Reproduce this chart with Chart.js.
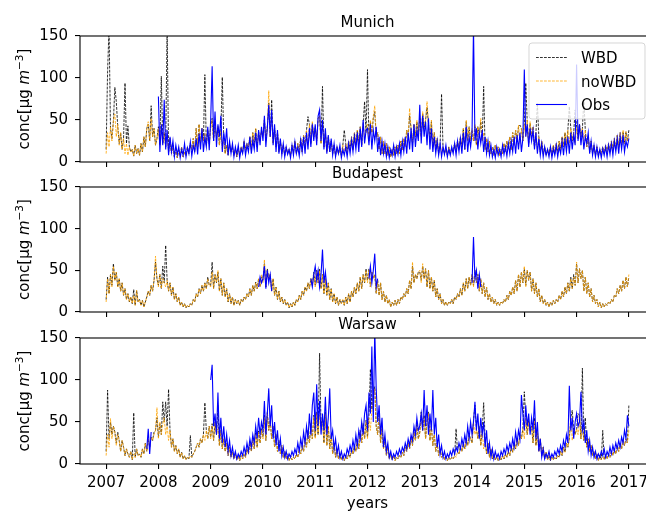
<!DOCTYPE html>
<html>
<head>
<meta charset="utf-8">
<script src="https://cdn.jsdelivr.net/npm/chart.js@4.4.1/dist/chart.umd.min.js"></script>
<style>
  html, body { margin: 0; padding: 0; width: 646px; height: 512px; overflow: hidden; background: #fff; }
  canvas { position: absolute; left: 0; top: 0; }
</style>
</head>
<body>
<canvas id="munich" width="670" height="512"></canvas>
<canvas id="budapest" width="670" height="512"></canvas>
<canvas id="warsaw" width="670" height="512"></canvas>
<script>
// Concentration series sampled every ~10 days, 2007.0 .. 2017.0 (36 samples per year + final point)
const T0 = 2007;
const PER_YEAR = 36;
const YEARS = [2007, 2008, 2009, 2010, 2011, 2012, 2013, 2014, 2015, 2016, 2017];
const _ = null;
const gap = n => Array(n).fill(null);

// ---------- Munich ----------
const munichWBD = [
  15,108,160,40,28,48,89,72,42,22,35,15,28,94,22,43,18,12,15,7,20,10,16,8,22,12,30,18,40,45,25,67,30,40,20,28,
  42,20,102,22,35,18,160,12,28,10,20,6,15,5,14,8,18,6,12,8,18,10,22,15,28,12,40,18,45,22,40,25,104,20,38,22,
  42,52,25,45,30,42,20,38,101,28,10,20,8,22,12,18,8,15,6,14,10,18,12,25,15,22,18,30,15,35,20,40,18,36,25,38,
  32,50,25,42,70,30,74,22,40,18,35,12,25,10,20,8,18,10,15,8,20,12,25,10,22,14,28,12,32,18,38,54,45,22,46,30,
  42,25,52,55,22,90,18,35,12,30,12,25,10,20,8,18,10,15,8,20,38,22,12,25,15,30,15,35,20,38,22,42,20,45,72,35,
  110,25,48,35,52,60,30,35,15,30,10,25,10,22,8,18,6,15,8,18,10,20,10,25,14,28,18,38,30,55,40,22,45,30,48,30,
  52,30,58,40,50,65,45,25,48,18,35,15,28,10,20,81,18,10,15,8,18,10,16,12,22,12,25,15,30,18,40,15,48,25,42,25,
  38,25,42,20,42,30,48,25,90,15,28,12,25,10,18,8,20,10,18,8,15,10,22,12,25,15,30,15,35,20,38,25,42,44,40,25,
  45,94,48,22,46,30,42,18,35,70,30,12,25,10,18,8,15,10,18,8,20,10,22,12,25,15,30,18,35,20,38,66,40,25,35,62,
  42,28,45,30,40,74,38,18,30,12,25,10,20,8,18,8,15,10,18,10,20,12,22,12,25,15,28,15,32,18,35,20,36,22,36,25,38
];
const munichNoWBD = [
  10,35,18,42,25,50,57,30,45,20,35,15,28,10,22,8,18,12,15,7,20,10,16,8,22,12,30,18,40,48,25,52,30,40,20,28,
  40,20,45,22,35,18,30,12,28,10,20,6,15,5,14,8,18,6,12,8,18,10,22,15,28,12,40,18,45,22,40,25,35,20,38,22,
  40,50,25,45,30,42,20,38,15,28,10,20,8,22,12,18,8,15,6,14,10,18,12,25,15,22,18,30,15,35,20,40,18,35,25,38,
  30,50,25,40,85,30,55,22,40,18,35,12,25,10,20,8,18,10,15,8,20,12,25,10,22,14,28,12,32,18,38,20,45,22,48,30,
  40,25,50,55,22,48,18,35,12,30,12,25,10,20,8,18,10,15,8,20,10,22,12,25,15,30,15,35,20,38,22,42,20,45,30,35,
  45,25,50,35,55,67,30,35,15,30,10,25,10,22,8,18,6,15,8,18,10,20,10,25,14,28,18,38,30,64,40,22,45,30,50,30,
  55,30,60,40,50,72,45,25,50,18,35,15,28,10,20,12,18,10,15,8,18,10,16,12,22,12,25,15,30,18,40,15,50,25,42,25,
  40,25,45,20,42,30,52,25,35,15,28,12,25,10,18,8,20,10,18,8,15,10,22,12,25,15,30,15,35,20,38,25,44,22,40,25,
  45,30,50,22,48,30,42,18,35,15,30,12,25,10,18,8,15,10,18,8,20,10,22,12,25,15,30,18,35,20,38,22,40,25,35,22,
  40,28,45,30,40,25,38,18,30,12,25,10,20,8,18,8,15,10,18,10,20,12,22,12,25,15,28,15,32,18,35,20,38,22,36,25,30
];
const munichObs = [
  ...gap(36),
  78,12,45,20,74,15,38,8,30,12,25,6,20,9,18,5,15,8,22,6,17,10,24,7,20,12,28,9,34,15,40,12,30,18,42,14,
  50,114,25,60,18,45,30,55,12,35,20,40,8,25,10,22,6,18,9,20,5,16,10,24,8,20,12,30,10,26,15,35,12,38,20,42,
  25,55,18,40,68,30,62,20,45,12,38,10,28,8,22,6,18,9,15,5,20,8,24,10,18,7,26,12,30,10,35,15,40,18,45,25,
  45,20,55,62,25,50,15,40,10,32,12,28,8,22,6,18,10,20,5,15,8,18,6,22,10,26,12,30,15,35,12,40,18,50,22,38,
  40,20,45,15,38,25,42,12,30,8,25,10,22,6,18,5,15,8,20,6,18,9,22,8,25,12,30,10,35,15,40,12,45,18,38,25,
  68,22,55,30,48,20,52,15,40,12,30,10,25,8,22,6,18,9,20,6,15,8,18,10,22,8,25,12,28,10,35,15,42,12,30,18,
  35,160,25,40,15,35,22,38,12,30,10,25,8,20,6,15,5,18,8,15,6,20,9,18,7,22,10,25,12,30,10,32,15,35,12,28,
  110,30,45,18,40,25,38,15,35,10,28,8,22,6,18,8,15,6,18,5,16,8,20,6,18,10,25,8,28,12,30,10,35,15,32,20,
  116,25,45,20,38,15,30,22,35,10,25,8,20,6,18,6,15,5,16,8,18,6,20,9,22,8,25,12,28,10,30,15,32,12,25,18,28
];

// ---------- Budapest ----------
const budapestWBD = [
  15,42,22,45,32,58,38,48,30,40,25,35,20,28,15,22,12,18,10,27,8,26,12,15,8,14,6,12,18,25,20,32,25,38,60,40,
  32,45,28,55,35,80,38,25,35,20,30,15,22,12,18,8,12,6,10,5,8,6,10,8,15,12,22,18,28,22,32,25,35,28,42,32,
  32,60,28,45,35,48,25,40,20,35,18,28,12,22,10,18,8,15,10,14,8,15,12,18,15,22,18,28,20,32,25,36,28,40,30,42,
  38,58,30,52,40,45,25,40,20,30,15,25,12,18,10,15,8,12,5,10,6,12,8,15,12,20,15,25,20,30,25,35,28,40,32,48,
  32,50,35,52,28,45,22,40,20,35,15,28,12,22,10,18,8,15,10,15,8,18,10,22,12,25,18,30,22,35,25,42,28,45,35,52,
  38,52,30,48,40,45,22,38,20,35,15,25,12,20,10,15,6,12,8,14,8,15,10,18,15,22,18,28,22,38,28,55,35,45,40,48,
  48,38,55,40,52,30,50,28,42,25,38,18,28,15,22,10,15,8,12,8,12,10,15,10,18,15,22,18,28,20,35,25,40,28,42,32,
  45,32,50,35,45,25,40,22,35,18,30,15,22,12,18,10,15,8,12,8,12,10,15,12,20,15,25,20,30,22,38,25,45,30,48,35,
  52,32,50,38,48,25,40,22,35,18,28,12,20,10,15,8,12,6,12,8,14,10,15,12,20,15,25,18,30,22,35,25,42,28,45,32,
  58,35,52,40,50,25,42,22,35,18,28,12,20,10,15,6,12,5,10,6,10,8,12,10,15,12,20,18,28,22,32,25,38,28,42,30,42
];
const budapestNoWBD = [
  12,40,22,45,30,55,38,48,30,40,25,35,20,28,15,22,12,18,10,20,8,26,12,15,8,14,6,12,18,25,20,32,25,38,67,40,
  30,45,28,40,35,30,38,25,35,20,30,15,22,12,18,8,12,6,10,5,8,6,10,8,15,12,22,18,28,22,32,25,35,28,40,32,
  30,48,28,45,35,50,25,40,20,35,18,28,12,22,10,18,8,15,10,14,8,15,12,18,15,22,18,28,20,32,25,35,28,40,30,45,
  35,63,30,50,40,45,25,40,20,30,15,25,12,18,10,15,8,12,5,10,6,12,8,15,12,20,15,25,20,30,25,35,28,40,32,45,
  30,48,35,50,28,45,22,40,20,35,15,28,12,22,10,18,8,15,10,15,8,18,10,22,12,25,18,30,22,35,25,42,28,45,35,50,
  35,50,30,48,40,45,22,38,20,35,15,25,12,20,10,15,6,12,8,14,8,15,10,18,15,22,18,28,22,38,28,60,35,45,40,48,
  50,35,58,40,52,30,50,28,42,25,38,18,28,15,22,10,15,8,12,8,12,10,15,10,18,15,22,18,28,20,35,25,40,28,42,32,
  45,30,50,35,45,25,40,22,35,18,30,15,22,12,18,10,15,8,12,8,12,10,15,12,20,15,25,20,30,22,38,25,45,30,48,35,
  55,30,50,38,48,25,40,22,35,18,28,12,20,10,15,8,12,6,12,8,14,10,15,12,20,15,25,18,30,22,35,25,40,28,42,32,
  60,35,52,40,50,25,42,22,35,18,28,12,20,10,15,6,12,5,10,6,10,8,12,10,15,12,20,18,28,22,32,25,38,28,42,30,45
];
const budapestObs = [
  ...gap(36),
  ...gap(36),
  ...gap(33), 30, 42, 35,
  40, 55, 28, 50, 35, 45, 25, ...gap(26), 40, 30, 45,
  55, 38, 50, 30, 45, 75, 35, 48, 30, ...gap(27),
  _, 40, 55, 35, 50, 70, 30, 40, ...gap(28),
  ...gap(36),
  35, 90, 40, 50, 28, 45, 30, ...gap(29),
  ...gap(36),
  ...gap(37)
];

// ---------- Warsaw ----------
const warsawWBD = [
  15,88,30,50,35,45,38,25,38,28,15,28,20,10,18,12,8,15,5,61,8,18,10,12,8,18,12,25,15,30,20,32,28,38,40,55,
  32,48,35,74,50,74,45,89,40,20,30,15,22,12,18,8,14,6,10,5,8,6,34,8,12,15,20,25,20,30,25,35,73,40,30,45,
  32,48,28,50,35,70,22,40,18,30,15,25,10,20,8,14,6,12,5,10,4,10,6,12,8,18,12,25,15,30,18,38,20,40,25,42,
  32,58,28,62,40,52,30,45,20,35,15,28,12,22,8,15,6,12,4,10,5,8,6,12,8,18,12,22,15,30,20,40,25,48,30,58,
  32,62,35,132,45,55,25,62,22,45,18,35,12,25,8,18,6,12,5,10,4,10,6,12,8,18,12,22,15,30,18,40,25,48,30,52,
  32,58,113,65,82,92,45,35,62,25,45,18,30,10,20,6,12,5,10,4,8,6,10,8,14,10,20,15,25,18,32,22,38,28,48,30,
  38,62,40,58,30,52,62,28,45,22,35,15,25,10,18,8,12,5,10,4,8,5,8,6,10,42,15,12,20,15,25,18,30,22,35,30,
  25,52,70,42,30,45,22,40,73,30,12,25,8,18,6,12,5,10,4,8,5,10,6,12,8,15,10,20,14,25,18,30,22,35,30,42,
  86,55,35,52,40,45,25,55,22,40,15,30,10,20,6,14,5,10,4,8,5,8,6,10,8,15,10,20,14,25,20,30,55,64,40,35,
  42,60,58,30,114,28,55,20,30,15,22,10,15,6,12,4,10,5,40,5,10,6,12,8,15,10,18,12,22,15,25,18,28,22,30,25,70
];
const warsawNoWBD = [
  10,35,20,54,30,45,38,22,35,28,15,28,20,10,18,12,8,15,5,12,8,18,10,12,8,18,12,25,15,30,20,32,28,35,40,67,
  30,50,35,48,55,35,45,28,40,20,30,15,22,12,18,8,14,6,10,5,8,6,10,8,12,15,20,25,20,30,25,35,28,40,30,45,
  30,45,28,50,35,42,22,40,18,30,15,25,10,20,8,14,6,12,5,10,4,10,6,12,8,18,12,25,15,28,18,35,20,38,25,40,
  30,55,28,60,40,50,30,45,20,35,15,28,12,22,8,15,6,12,4,10,5,8,6,12,8,18,12,22,15,30,20,38,25,45,30,55,
  30,60,35,58,45,55,25,60,22,45,18,35,12,25,8,18,6,12,5,10,4,10,6,12,8,18,12,22,15,30,18,38,25,45,30,50,
  30,55,40,65,80,90,45,35,60,25,45,18,30,10,20,6,12,5,10,4,8,6,10,8,14,10,20,15,25,18,32,22,38,28,45,30,
  35,60,40,55,30,50,60,28,45,22,35,15,25,10,18,8,12,5,10,4,8,5,8,6,10,8,15,12,20,15,25,18,30,22,35,30,
  25,50,35,42,30,45,22,40,18,30,12,25,8,18,6,12,5,10,4,8,5,10,6,12,8,15,10,20,14,25,18,30,22,35,30,42,
  30,55,35,50,40,45,25,52,22,40,15,30,10,20,6,14,5,10,4,8,5,8,6,10,8,15,10,20,14,25,20,30,55,28,40,35,
  42,35,58,30,45,28,35,20,30,15,22,10,15,6,12,4,10,5,8,5,10,6,12,8,15,10,18,12,22,15,25,18,28,22,30,25,40
];
const warsawObs = [
  ...gap(28), 18, 42, 12, 38, ...gap(4),
  ...gap(36),
  100,118,45,60,35,85,30,55,25,45,20,35,15,28,10,20,8,15,6,12,8,15,10,20,12,25,15,30,20,35,25,45,30,55,35,50,
  40,75,35,60,90,45,70,30,50,22,40,15,30,10,20,8,15,6,12,8,15,10,18,12,25,15,30,20,38,25,45,30,60,35,70,85,
  40,95,45,75,35,60,40,80,35,55,90,30,40,18,30,12,22,8,15,6,12,8,18,12,22,15,28,18,35,22,40,30,50,35,60,70,
  40,85,60,140,50,160,90,50,70,35,55,20,35,15,25,8,15,6,12,8,15,10,18,12,20,15,25,18,30,22,35,28,45,35,55,40,
  45,60,40,88,45,70,35,60,40,88,35,55,20,35,12,22,8,15,6,12,8,15,10,18,12,20,15,25,18,30,22,35,25,45,30,50,
  35,50,74,40,60,30,55,35,50,20,40,12,25,8,18,6,15,8,12,6,15,10,18,12,22,15,25,18,30,20,38,25,40,30,82,60,
  40,70,45,60,35,55,40,76,30,50,15,30,8,18,6,12,8,15,6,12,8,15,10,18,12,22,15,28,20,35,25,93,40,55,30,50,
  60,45,50,86,40,50,25,40,15,28,10,20,8,15,6,12,8,15,10,18,8,15,10,20,12,22,15,25,18,28,20,32,25,40,30,58,45
];

// ---------- drawing ----------
const FONT = "'DejaVu Sans', sans-serif";
Chart.defaults.font.family = FONT;
Chart.defaults.font.size = 15;
Chart.defaults.color = '#000';

const CANVAS_W = 670, CANVAS_H = 512;
const AXIS_LEFT = 80, AXIS_RIGHT = 655;

const toPoints = arr => arr.map((v, i) => ({ x: T0 + i / PER_YEAR, y: v }));

function drawYLabel(ctx, x, cy) {
  const parts = [
    { t: 'conc[μg ', f: `15px ${FONT}`, dy: 0 },
    { t: 'm', f: `italic 15px ${FONT}`, dy: 0 },
    { t: '−3', f: `10.5px ${FONT}`, dy: -6 },
    { t: ']', f: `15px ${FONT}`, dy: 0 }
  ];
  let total = 0;
  parts.forEach(p => { ctx.font = p.f; p.w = ctx.measureText(p.t).width; total += p.w; });
  ctx.save();
  ctx.translate(x, cy);
  ctx.rotate(-Math.PI / 2);
  ctx.fillStyle = '#000';
  ctx.textAlign = 'left';
  ctx.textBaseline = 'alphabetic';
  let px = -total / 2;
  parts.forEach(p => { ctx.font = p.f; ctx.fillText(p.t, px, p.dy); px += p.w; });
  ctx.restore();
}

function drawLegend(ctx, datasets) {
  const x0 = 529, y0 = 43, w = 116, h = 76, r = 3;
  ctx.save();
  ctx.beginPath();
  ctx.moveTo(x0 + r, y0);
  ctx.arcTo(x0 + w, y0, x0 + w, y0 + h, r);
  ctx.arcTo(x0 + w, y0 + h, x0, y0 + h, r);
  ctx.arcTo(x0, y0 + h, x0, y0, r);
  ctx.arcTo(x0, y0, x0 + w, y0, r);
  ctx.closePath();
  ctx.fillStyle = 'rgba(255,255,255,0.8)';
  ctx.fill();
  ctx.strokeStyle = 'rgba(204,204,204,0.8)';
  ctx.lineWidth = 1;
  ctx.stroke();
  const rows = [57.5, 81, 104.5];
  datasets.forEach((ds, i) => {
    const y = rows[i];
    ctx.setLineDash(ds.borderDash || []);
    ctx.strokeStyle = ds.borderColor;
    ctx.lineWidth = ds.borderWidth;
    ctx.beginPath();
    ctx.moveTo(536, y);
    ctx.lineTo(567, y);
    ctx.stroke();
    ctx.setLineDash([]);
    ctx.fillStyle = '#000';
    ctx.font = `15px ${FONT}`;
    ctx.textAlign = 'left';
    ctx.textBaseline = 'alphabetic';
    ctx.fillText(ds.label, 581, y + 5.5);
  });
  ctx.restore();
}

const panelDecor = {
  id: 'panelDecor',
  afterDraw(chart, args, opts) {
    const { ctx, chartArea: a } = chart;
    ctx.save();
    ctx.strokeStyle = '#000';
    ctx.lineWidth = 1.1;
    ctx.strokeRect(a.left, a.top, a.right - a.left, a.bottom - a.top);
    ctx.fillStyle = '#000';
    ctx.font = `15px ${FONT}`;
    ctx.textAlign = 'center';
    ctx.textBaseline = 'alphabetic';
    ctx.fillText(opts.title, (a.left + a.right) / 2, a.top - 9.5);
    if (opts.xlabel) ctx.fillText(opts.xlabel, (a.left + a.right) / 2, 508);
    ctx.restore();
    drawYLabel(ctx, 29, (a.top + a.bottom) / 2);
    if (opts.legend) drawLegend(ctx, chart.data.datasets);
  }
};

function makePanel(id, title, wbd, noWbd, obs, box) {
  return new Chart(document.getElementById(id), {
    type: 'line',
    data: {
      datasets: [
        { label: 'WBD', data: toPoints(wbd), borderColor: '#000000', borderWidth: 0.8, borderDash: [2.8, 1.2], order: 2 },
        { label: 'noWBD', data: toPoints(noWbd), borderColor: '#ffa500', borderWidth: 0.8, borderDash: [2.8, 1.2], order: 1 },
        { label: 'Obs', data: toPoints(obs), borderColor: '#0000ff', borderWidth: 1.1, order: 0 }
      ]
    },
    options: {
      responsive: false,
      animation: false,
      devicePixelRatio: 1,
      events: [],
      elements: { point: { radius: 0 }, line: { tension: 0 } },
      layout: { padding: { top: box.top, bottom: CANVAS_H - box.bottom - box.axisH, left: 0, right: CANVAS_W - AXIS_RIGHT } },
      plugins: {
        legend: { display: false },
        tooltip: { enabled: false },
        panelDecor: { title: title, legend: box.legend, xlabel: box.xlabel }
      },
      scales: {
        x: {
          type: 'linear',
          min: 2006.5,
          max: 2017.5,
          afterBuildTicks: s => { s.ticks = YEARS.map(v => ({ value: v })); },
          afterFit: s => { s.height = box.axisH; },
          border: { display: false },
          grid: { drawOnChartArea: false, drawTicks: true, tickLength: 5, tickColor: '#000', lineWidth: 1.1 },
          ticks: { display: box.labels, autoSkip: false, maxRotation: 0, padding: 5, color: '#000', font: { size: 15 }, callback: v => String(v) }
        },
        y: {
          min: 0,
          max: 150,
          afterFit: s => { s.width = AXIS_LEFT; },
          border: { display: false },
          grid: { drawOnChartArea: false, drawTicks: true, tickLength: 5, tickColor: '#000', lineWidth: 1.1 },
          ticks: { stepSize: 50, padding: 7, color: '#000', font: { size: 15 }, callback: v => String(v) }
        }
      }
    },
    plugins: [panelDecor]
  });
}

makePanel('munich', 'Munich', munichWBD, munichNoWBD, munichObs,
  { top: 36, bottom: 162, axisH: 10, labels: false, legend: true });
makePanel('budapest', 'Budapest', budapestWBD, budapestNoWBD, budapestObs,
  { top: 187, bottom: 312, axisH: 10, labels: false, legend: false });
makePanel('warsaw', 'Warsaw', warsawWBD, warsawNoWBD, warsawObs,
  { top: 338, bottom: 464, axisH: 30, labels: true, legend: false, xlabel: 'years' });
</script>
</body>
</html>
